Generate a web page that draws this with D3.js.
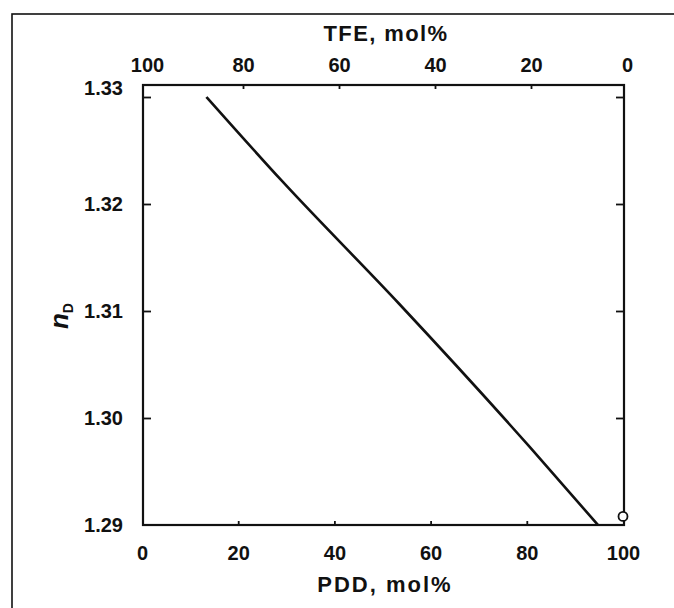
<!DOCTYPE html>
<html>
<head>
<meta charset="utf-8">
<script src="https://cdn.jsdelivr.net/npm/d3@7/dist/d3.min.js"></script>
<style>
  html, body { margin: 0; padding: 0; background: #fff; }
  svg { display: block; }
  text { font-family: "Liberation Sans", Arial, Helvetica, sans-serif; fill: #111; }
</style>
</head>
<body>
<svg id="chart" width="674" height="608"></svg>
<script>
// ---- data ----
const pddValues = [13.4, 29.0, 53.4, 80.6, 94.8];           // PDD, mol%
const nDValues  = [1.3300, 1.3222, 1.3107, 1.2973, 1.2900];  // refractive index
const pointPDD = [100];
const pointND  = [1.2908];
const xTicks = [0, 20, 40, 60, 80, 100];
const tfeTicks = [100, 80, 60, 40, 20, 0];
const yTicks = [1.29, 1.30, 1.31, 1.32, 1.33];
const xTitle = "PDD, mol%";
const topTitle = "TFE, mol%";

// ---- layout ----
const svg = d3.select("#chart");
const pLeft = 143, pRight = 624, pTop = 85, pBottom = 525;

const x = d3.scaleLinear().domain([0, 100]).range([pLeft - 1, pRight - 1]);
const xTop = d3.scaleLinear().domain([100, 0]).range([pLeft + 4, pRight + 3]);
const y = d3.scaleLinear().domain([1.29, 1.33]).range([pBottom, 97]);

// outer frame
svg.append("rect").attr("x", 12).attr("y", 14).attr("width", 720).attr("height", 700)
  .attr("fill", "none").attr("stroke", "#111").attr("stroke-width", 1.6);

// plot frame
svg.append("rect").attr("x", pLeft).attr("y", pTop)
  .attr("width", pRight - pLeft).attr("height", pBottom - pTop)
  .attr("fill", "none").attr("stroke", "#111").attr("stroke-width", 2.2);

const fmtY = d3.format(".2f");

// bottom axis
const gB = svg.append("g").attr("transform", `translate(0,${pBottom})`)
  .call(d3.axisBottom(x).tickValues(xTicks).tickSize(-4).tickPadding(21).tickFormat(d3.format("d")));
// top axis
const gT = svg.append("g").attr("transform", `translate(0,${pTop})`)
  .call(d3.axisTop(xTop).tickValues(tfeTicks).tickSize(-4).tickPadding(13).tickFormat(d3.format("d")));
// left axis
const gL = svg.append("g").attr("transform", `translate(${pLeft},0)`)
  .call(d3.axisLeft(y).tickValues(yTicks).tickSize(-8).tickPadding(20).tickFormat(fmtY));
// right axis (ticks only)
const gR = svg.append("g").attr("transform", `translate(${pRight},0)`)
  .call(d3.axisRight(y).tickValues(yTicks).tickSize(-8).tickFormat(""));

[gB, gT, gL, gR].forEach(g => {
  g.select(".domain").remove();
  g.selectAll(".tick line").attr("stroke", "#111").attr("stroke-width", 1.8);
  g.selectAll(".tick text").attr("font-size", 20).attr("font-weight", "bold")
    .attr("font-family", "Liberation Sans, Arial, sans-serif").attr("fill", "#111");
});
gB.selectAll(".tick line").filter(d => d === 0 || d === 100).remove();
gT.selectAll(".tick line").filter(d => d === 0 || d === 100).remove();
gL.selectAll(".tick line").filter(d => d === 1.29).remove();
gR.selectAll(".tick line").filter(d => d === 1.29).remove();
// top label 1.33 sits a little higher in the original
gL.selectAll(".tick text").filter(d => d === 1.33).attr("dy", "-0.15em");

// titles
svg.append("text").attr("x", 386).attr("y", 41).attr("text-anchor", "middle")
  .attr("font-size", 22).attr("font-weight", "bold").attr("letter-spacing", 1.4)
  .text(topTitle);
svg.append("text").attr("x", 385).attr("y", 592).attr("text-anchor", "middle")
  .attr("font-size", 22).attr("font-weight", "bold").attr("letter-spacing", 2)
  .text(xTitle);

// y title: italic n with subscript D, rotated
const yt = svg.append("text").attr("transform", "translate(68,316) rotate(-90)")
  .attr("text-anchor", "middle").attr("font-size", 26);
yt.append("tspan").attr("font-style", "italic").attr("font-weight", "bold").text("n");
yt.append("tspan").attr("font-size", 14).attr("font-weight", "bold").attr("dy", 5).text("D");

// data line
const line = d3.line().curve(d3.curveMonotoneX)
  .x((d, i) => x(pddValues[i])).y((d, i) => y(nDValues[i]));
svg.append("path").datum(pddValues).attr("d", line)
  .attr("fill", "none").attr("stroke", "#111").attr("stroke-width", 2.6);

// open circle point
svg.selectAll("circle.pt").data(pointPDD).enter().append("circle")
  .attr("class", "pt")
  .attr("cx", d => x(d)).attr("cy", (d, i) => y(pointND[i])).attr("r", 4.5)
  .attr("fill", "#fff").attr("stroke", "#111").attr("stroke-width", 1.8);
</script>
</body>
</html>
